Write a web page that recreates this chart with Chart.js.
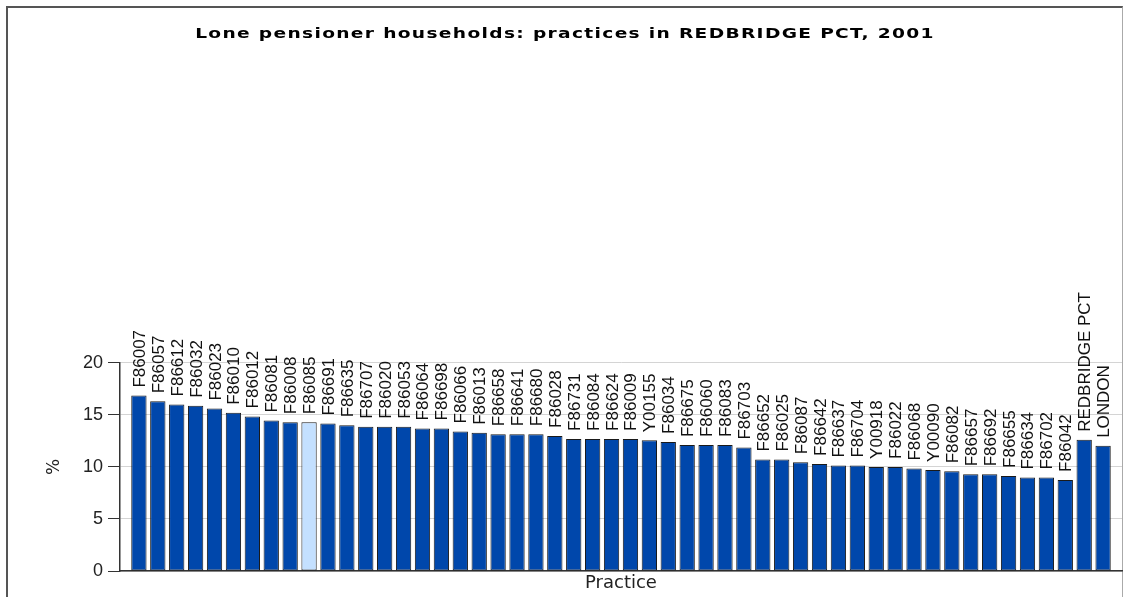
<!DOCTYPE html>
<html>
<head>
<meta charset="utf-8">
<script src="https://cdn.jsdelivr.net/npm/chart.js@4.4.1/dist/chart.umd.min.js"></script>
<style>
  html, body { margin: 0; padding: 0; background: #fff; overflow: hidden; }
  #frame {
    position: absolute; left: 6px; top: 6px; width: 1114px; height: 700px;
    border-left: 2px solid #555; border-top: 2px solid #555; border-right: 1px solid #aaa;
  }
  #chart { position: absolute; left: 0; top: 0; }
</style>
</head>
<body>
<div id="frame"></div>
<canvas id="chart" width="1126" height="597"></canvas>
<script>
// practices in REDBRIDGE PCT, then the PCT and London averages
const practices = [
  'F86007', 'F86057', 'F86612', 'F86032', 'F86023', 'F86010', 'F86012', 'F86081',
  'F86008', 'F86085', 'F86691', 'F86635', 'F86707', 'F86020', 'F86053', 'F86064',
  'F86698', 'F86066', 'F86013', 'F86658', 'F86641', 'F86680', 'F86028', 'F86731',
  'F86084', 'F86624', 'F86009', 'Y00155', 'F86034', 'F86675', 'F86060', 'F86083',
  'F86703', 'F86652', 'F86025', 'F86087', 'F86642', 'F86637', 'F86704', 'Y00918',
  'F86022', 'F86068', 'Y00090', 'F86082', 'F86657', 'F86692', 'F86655', 'F86634',
  'F86702', 'F86042', 'REDBRIDGE PCT', 'LONDON'
];

// % lone pensioner households
const percentages = [
  16.85, 16.3, 16.0, 15.87, 15.6, 15.2, 14.85, 14.45,
  14.3, 14.3, 14.16, 14.0, 13.85, 13.85, 13.85, 13.7,
  13.7, 13.4, 13.27, 13.14, 13.14, 13.14, 12.98, 12.69,
  12.69, 12.69, 12.69, 12.56, 12.4, 12.1, 12.1, 12.1,
  11.86, 10.7, 10.7, 10.45, 10.29, 10.13, 10.13, 10.0,
  10.0, 9.84, 9.71, 9.58, 9.29, 9.29, 9.13, 8.97,
  8.97, 8.75, 12.6, 12.02
];

const highlighted = 'F86085';
const yTicks = [0, 5, 10, 15, 20];

const barBlue = '#0047ab';
const barLight = '#c4e0ff';

// names written upwards above each bar
const barLabels = {
  id: 'barLabels',
  afterDatasetsDraw(chart) {
    const ctx = chart.ctx;
    const meta = chart.getDatasetMeta(0);
    ctx.save();
    ctx.font = '17px "Liberation Sans", Arial, sans-serif';
    ctx.fillStyle = '#111';
    ctx.textAlign = 'left';
    ctx.textBaseline = 'alphabetic';
    meta.data.forEach((bar, i) => {
      ctx.save();
      ctx.translate(bar.x + 6, bar.y - 8);
      ctx.rotate(-Math.PI / 2);
      ctx.fillText(practices[i], 0, 0);
      ctx.restore();
    });
    ctx.restore();
  }
};

// the title in the original is drawn wide, stretch it a bit
const titleStretch = {
  id: 'titleStretch',
  beforeDraw(chart) {
    const t = chart.titleBlock;
    if (t && !t._wide) {
      const draw = t.draw;
      t.draw = function (area) {
        const ctx = this.ctx;
        const cx = (this.left + this.right) / 2;
        ctx.save();
        ctx.letterSpacing = '1px';
        ctx.translate(cx, 0);
        ctx.scale(1.33, 1);
        ctx.translate(-cx, 0);
        draw.call(this, area);
        ctx.restore();
      };
      t._wide = true;
    }
  }
};

new Chart(document.getElementById('chart'), {
  type: 'bar',
  data: {
    datasets: [{
      data: practices.map((p, i) => ({ x: i, y: percentages[i] })),
      backgroundColor: practices.map(p => p === highlighted ? barLight : barBlue),
      borderColor: '#1a1a1a',
      borderWidth: 1,
      borderSkipped: false,
      categoryPercentage: 1,
      barPercentage: 0.81
    }]
  },
  options: {
    responsive: false,
    animation: false,
    devicePixelRatio: 1,
    layout: { padding: { left: 8, right: 4, top: 8, bottom: 0 } },
    plugins: {
      legend: { display: false },
      tooltip: { enabled: false },
      title: {
        display: true,
        text: 'Lone pensioner households: practices in REDBRIDGE PCT, 2001',
        color: '#000',
        font: { family: '"DejaVu Sans", Verdana, sans-serif', size: 14, weight: 'bold', lineHeight: 1.2 },
        padding: { top: 18, bottom: 320 }
      }
    },
    scales: {
      x: {
        type: 'linear',
        offset: false,
        min: -1,
        max: 52,
        ticks: { display: false },
        grid: { display: false, drawTicks: false },
        border: { display: true, color: '#333', width: 1.5 },
        title: {
          display: true,
          text: 'Practice',
          color: '#222',
          font: { family: '"DejaVu Sans", Verdana, sans-serif', size: 18, lineHeight: 1.2 },
          padding: { top: 2, bottom: 2.4 }
        }
      },
      y: {
        min: 0,
        max: 20,
        afterBuildTicks(scale) { scale.ticks = yTicks.map(v => ({ value: v })); },
        afterFit(scale) { scale.width = 112; },
        ticks: {
          color: '#222',
          padding: 5,
          font: { family: '"Liberation Sans", Arial, sans-serif', size: 18 }
        },
        grid: { color: '#d4d4d4', tickColor: '#333', tickLength: 12, lineWidth: 1 },
        border: { display: true, color: '#333', width: 1.5 },
        title: {
          display: true,
          text: '%',
          color: '#222',
          font: { family: '"DejaVu Sans", Verdana, sans-serif', size: 17, lineHeight: 1.2 },
          padding: { top: 36, bottom: 0 }
        }
      }
    }
  },
  plugins: [barLabels, titleStretch]
});
</script>
</body>
</html>
